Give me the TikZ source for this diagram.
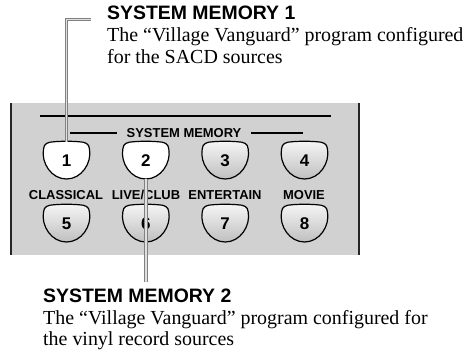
\documentclass[tikz,border=0pt]{standalone}
\usepackage{fontspec}
\setmainfont{Liberation Serif}
\newfontfamily\hfont{Liberation Sans}
\begin{document}
\begin{tikzpicture}[x=1bp,y=-1bp,
  panelfill/.style={fill=black!18},
  panelside/.style={draw=black!85,line width=2bp},
  rule/.style={draw=black,line width=1.1bp},
  btnline/.style={draw=black,line width=1.2bp},
  litbtn/.style={fill=white},
  graybtn/.style={top color=black!4,bottom color=black!25},
  btnnum/.style={minimum width=46bp,minimum height=37bp,inner sep=0pt,
    font=\hfont\bfseries\fontsize{17}{17}\selectfont},
  keylabel/.style={anchor=base,inner sep=0pt,font=\hfont\bfseries\fontsize{13}{13}\selectfont},
  title/.style={anchor=base west,inner sep=0pt,font=\hfont\bfseries\fontsize{19.5}{19.5}\selectfont},
  body/.style={anchor=base west,inner sep=0pt,font=\fontsize{20}{20}\selectfont},
  leader/.style={draw=black!50,line width=1bp,double=black!12,double distance=1.6bp}]
\useasboundingbox (0,0) rectangle (471,357);
\newcommand\mybtn[5]{%
  \begin{scope}[shift={(#2,#3)}]
  \path[btnline,#5] (-23,7) .. controls (-22.5,1.5) and (-19,0) .. (-12,-0.3)
    .. controls (-4,-0.9) and (4,-0.9) .. (12,-0.3)
    .. controls (19,0) and (22.5,1.5) .. (23,7)
    .. controls (25.5,21) and (15,37) .. (0,37)
    .. controls (-15,37) and (-25.5,21) .. (-23,7) -- cycle;
  \node[btnnum] (#1) at (0,18.5) {#4};
  \end{scope}}
% panel
\fill[panelfill] (12,103) rectangle (358,255);
\draw[panelside] (11,103) -- (11,255);
\draw[panelside] (359,103) -- (359,255);
\draw[rule] (40,116) -- (331,116);
\node[keylabel] (sm) at (184,137.5) {SYSTEM MEMORY};
\draw[rule] (70,133) -- (117,133);
\draw[rule] (251,133) -- (303,133);
% buttons
\mybtn{b1}{66.5}{142}{1}{litbtn}
\mybtn{b2}{145.8}{142}{2}{litbtn}
\mybtn{b3}{225.2}{142}{3}{graybtn}
\mybtn{b4}{304.5}{142}{4}{graybtn}
\mybtn{b5}{66.5}{205}{5}{graybtn}
\mybtn{b6}{145.8}{205}{6}{graybtn}
\mybtn{b7}{225.2}{205}{7}{graybtn}
\mybtn{b8}{304.5}{205}{8}{graybtn}
\node[keylabel] (l5) at (66,199.5) {CLASSICAL};
\node[keylabel] (l6) at (146,199.5) {LIVE/CLUB};
\node[keylabel] (l7) at (225,199.5) {ENTERTAIN};
\node[keylabel] (l8) at (304,199.5) {MOVIE};
% leaders
\coordinate (e1) at (91,19.5);
\coordinate (e2) at (145.8,282);
\draw[leader] (b1.north) |- (e1);
\draw[leader] (b2.south) -- (e2);
% texts
\node[title] (t1) at (107,19.5) {SYSTEM MEMORY 1};
\node[body] (t1a) at (107,41.5) {The “Village Vanguard” program configured};
\node[body] (t1b) at (107,63) {for the SACD sources};
\node[title] (t2) at (43,302.5) {SYSTEM MEMORY 2};
\node[body] (t2a) at (43,324) {The “Village Vanguard” program configured for};
\node[body] (t2b) at (43,345) {the vinyl record sources};
\end{tikzpicture}
\end{document}
